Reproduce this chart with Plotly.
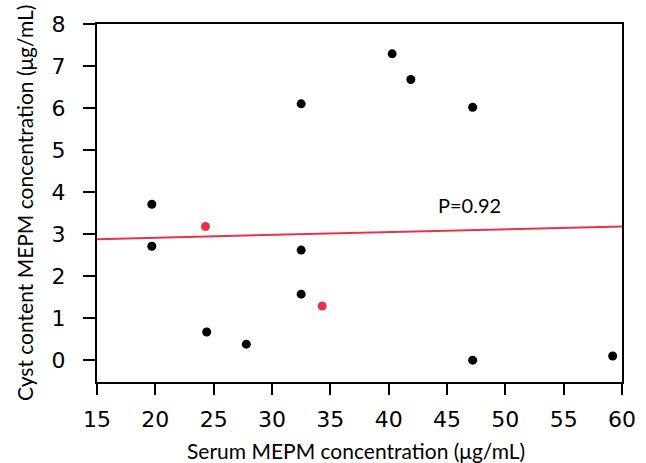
import plotly.graph_objects as go

black_x = [19.7, 19.7, 24.4, 27.8, 32.5, 32.5, 32.5, 40.3, 41.9, 47.2, 47.2, 59.2]
black_y = [3.71, 2.71, 0.67, 0.38, 6.10, 2.62, 1.57, 7.29, 6.68, 6.02, 0.0, 0.1]
red_x = [24.3, 34.3]
red_y = [3.18, 1.29]
fit_x = [15, 60]
fit_y = [2.88, 3.18]
x_ticks = [15, 20, 25, 30, 35, 40, 45, 50, 55, 60]
y_ticks = [0, 1, 2, 3, 4, 5, 6, 7, 8]

RED = "#e8334a"
TITLE_FONT = dict(family="Lato, Open Sans, sans-serif", size=21, color="black")

fig = go.Figure()
fig.add_trace(go.Scatter(x=fit_x, y=fit_y, mode="lines",
                         line=dict(color=RED, width=2), showlegend=False))
fig.add_trace(go.Scatter(x=black_x, y=black_y, mode="markers",
                         marker=dict(color="black", size=9), showlegend=False))
fig.add_trace(go.Scatter(x=red_x, y=red_y, mode="markers",
                         marker=dict(color=RED, size=9), showlegend=False))

fig.add_annotation(x=46.97, y=3.69, text="P=0.92", showarrow=False,
                   font=dict(family="Lato, Open Sans, sans-serif", size=20, color="black"))

fig.add_annotation(xref="paper", yref="paper", x=0.494, y=-0.19,
                   xanchor="center", yanchor="middle", showarrow=False,
                   text="Serum MEPM concentration (μg/mL)", font=TITLE_FONT)
fig.add_annotation(xref="paper", yref="paper", x=-0.139, y=0.5,
                   xanchor="center", yanchor="middle", showarrow=False, textangle=-90,
                   text="Cyst content MEPM concentration (μg/mL)", font=TITLE_FONT)

fig.update_layout(
    width=646, height=463,
    margin=dict(l=97, r=24, t=24, b=81),
    plot_bgcolor="white", paper_bgcolor="white",
)
fig.update_xaxes(range=[15, 60], tickvals=x_ticks, showline=True, mirror=True,
                 linecolor="black", linewidth=2, ticks="outside", ticklen=11,
                 tickwidth=2, tickcolor="black", showgrid=False, zeroline=False,
                 automargin=False, ticklabelstandoff=6,
                 tickfont=dict(family="DejaVu Sans", size=22, color="black"))
fig.update_yaxes(range=[-0.52, 8], tickvals=y_ticks, showline=True, mirror=True,
                 linecolor="black", linewidth=2, ticks="outside", ticklen=12,
                 tickwidth=2, tickcolor="black", showgrid=False, zeroline=False,
                 automargin=False, ticklabelstandoff=13,
                 tickfont=dict(family="DejaVu Sans", size=22, color="black"))

fig.write_html("out.html", config={"displayModeBar": False},
               post_script="document.body.style.margin='0';")
